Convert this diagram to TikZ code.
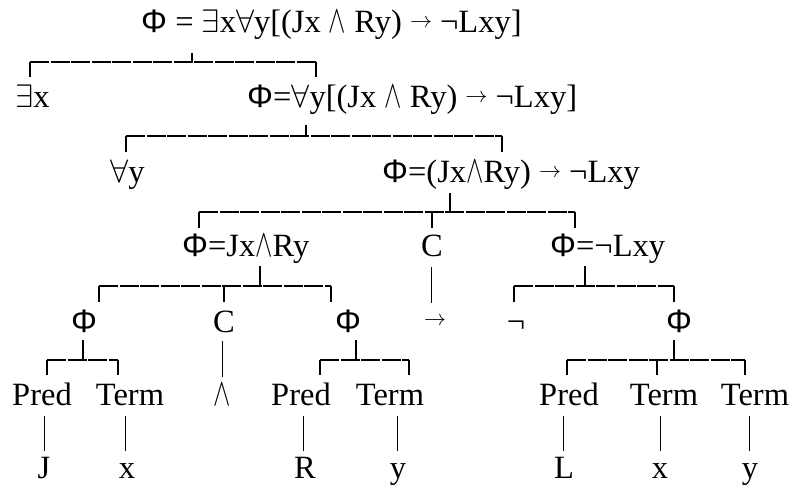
\RequirePackage{fix-cm}
\documentclass[tikz,border=0pt]{standalone}
\usepackage{fontspec}
\usepackage{graphicx}
\setmainfont{Liberation Serif}
\newfontfamily\phifont{Liberation Sans}
\newcommand{\myPhi}{{\phifont Φ}}
\newcommand{\myto}{\raisebox{5.5bp}{\fontsize{22bp}{22bp}\selectfont$\rightarrow$}}
\newcommand{\mywedge}{\scalebox{0.8}[1.2]{$\wedge$}}
\begin{document}
\begin{tikzpicture}[x=1bp,y=-1bp,
  every node/.style={inner sep=0pt, font=\fontsize{32.5bp}{38bp}\selectfont, text height=25bp, text depth=7bp},
  lab/.style={anchor=base},
  labw/.style={anchor=base west},
  brk/.style={line width=1.6bp, dash pattern=on 19bp off 1.5bp},
  stem/.style={line width=1.6bp},
  thinline/.style={line width=0.8bp}]
\useasboundingbox (0,0) rectangle (794,486);
% row 1
\node[labw] (r1) at (141,33) {\myPhi{} = $\exists$x$\forall$y[(Jx \mywedge{} Ry) \myto{} ¬Lxy]};
% bracket 1
\draw[stem] (192,53) -- (192,62);
\draw[brk] (30,62) -- (316,62);
\draw[stem] (30,62) -- (30,77);
\draw[stem] (316,62) -- (316,77);
% row 2
\node[labw] (ex) at (15,108) {$\exists$x};
\node[labw] (r2) at (247,108) {\myPhi=$\forall$y[(Jx \mywedge{} Ry) \myto{} ¬Lxy]};
% bracket 2
\draw[stem] (306,125) -- (306,136);
\draw[brk] (126,136) -- (502,136);
\draw[stem] (126,136) -- (126,152);
\draw[stem] (502,136) -- (502,152);
% row 3
\node[labw] (fa) at (110,183) {$\forall$y};
\node[labw] (r3) at (382,183) {\myPhi=(Jx\mywedge Ry) \myto{} ¬Lxy};
% bracket 3
\draw[stem] (450,193) -- (450,212);
\draw[brk] (199,212) -- (575,212);
\draw[stem] (199,212) -- (199,228);
\draw[stem] (432,212) -- (432,228);
\draw[stem] (575,212) -- (575,228);
% row 4
\node[labw] (r4a) at (182,257) {\myPhi=Jx\mywedge Ry};
\node[lab] (c1) at (432,257) {C};
\node[labw] (r4b) at (550,257) {\myPhi=¬Lxy};
% bracket 4a
\draw[stem] (260,266) -- (260,286);
\draw[brk] (99,286) -- (331,286);
\draw[stem] (99,286) -- (99,302);
\draw[stem] (224,286) -- (224,302);
\draw[stem] (331,286) -- (331,302);
% C line to arrow
\node[anchor=center, text height=, text depth=] (arr) at (435,321) {\fontsize{22bp}{22bp}\selectfont$\rightarrow$};
\draw[thinline] (c1.south -| 431,0) ++(0,3) -- ++(0,36);
% bracket 4b
\draw[stem] (585,266) -- (585,286);
\draw[brk] (514,286) -- (674,286);
\draw[stem] (514,286) -- (514,302);
\draw[stem] (674,286) -- (674,302);
% row 5
\node[lab] (p5a) at (84,332) {\myPhi};
\node[lab] (c2) at (224,332) {C};
\node[lab] (p5b) at (348,332) {\myPhi};
\node[lab] (neg) at (516,332) {¬};
\node[lab] (p5c) at (679,332) {\myPhi};
% bracket 5a
\draw[stem] (83,340) -- (83,360);
\draw[brk] (47,360) -- (118,360);
\draw[stem] (47,360) -- (47,375);
\draw[stem] (118,360) -- (118,375);
% bracket 5b
\draw[stem] (356,340) -- (356,360);
\draw[brk] (320,360) -- (409,360);
\draw[stem] (320,360) -- (320,375);
\draw[stem] (409,360) -- (409,375);
% bracket 5c
\draw[stem] (674,340) -- (674,360);
\draw[brk] (567,360) -- (745,360);
\draw[stem] (567,360) -- (567,375);
\draw[stem] (657,360) -- (657,375);
\draw[stem] (745,360) -- (745,375);
% row 6
\node[lab] (pr1) at (42,405) {Pred};
\node[lab] (tm1) at (130,405) {Term};
\node[lab] (wd) at (222,405) {\mywedge};
\node[lab] (pr2) at (301,405) {Pred};
\node[lab] (tm2) at (390,405) {Term};
\node[lab] (pr3) at (569,405) {Pred};
\node[lab] (tm3) at (664,405) {Term};
\node[lab] (tm4) at (755,405) {Term};
\draw[thinline] (c2.south -| 222,0) ++(0,2) -- ++(0,36);
% row 7
\node[lab] (l1) at (44,478) {J};
\node[lab] (l2) at (127,478) {x};
\node[lab] (l3) at (305,478) {R};
\node[lab] (l4) at (398,478) {y};
\node[lab] (l5) at (564,478) {L};
\node[lab] (l6) at (660,478) {x};
\node[lab] (l7) at (750,478) {y};
\foreach \a/\b/\x in {pr1/l1/44, tm1/l2/125, pr2/l3/303, tm2/l4/397, pr3/l5/563, tm3/l6/660, tm4/l7/749}
  \draw[thinline] (\a.south -| \x,0) ++(0,4) -- ([yshift=2bp]\b.north -| \x,0);
\end{tikzpicture}
\end{document}
